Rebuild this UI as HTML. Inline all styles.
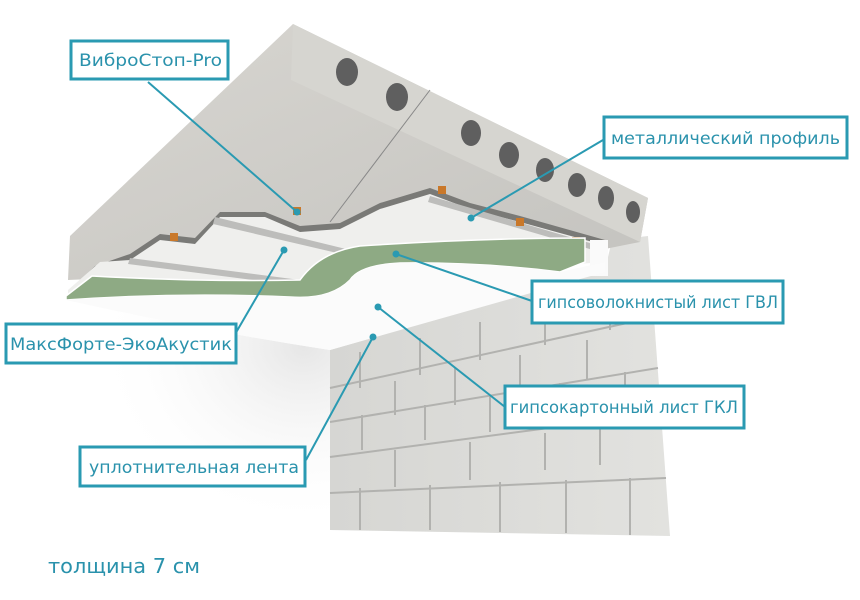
<!DOCTYPE html>
<html><head><meta charset="utf-8"><style>
html,body{margin:0;padding:0;background:#fff;}
svg{display:block}
.lb{fill:#fff;stroke:#2a9ab2;stroke-width:3}
.t{font-family:"DejaVu Sans","Liberation Sans",sans-serif;font-size:16.5px;fill:#2a92ac}
.ln{stroke:#2a9ab2;stroke-width:2;fill:none}
.dot{fill:#2a9ab2}
</style></head><body>
<svg width="860" height="600" viewBox="0 0 860 600" xmlns="http://www.w3.org/2000/svg">
<defs>
<linearGradient id="conc" x1="0" y1="0" x2="1" y2="1"><stop offset="0" stop-color="#d8d6d1"/><stop offset="1" stop-color="#c4c3bf"/></linearGradient>
<linearGradient id="wall" x1="0" y1="0" x2="1" y2="0"><stop offset="0" stop-color="#d6d6d3"/><stop offset="1" stop-color="#e2e2df"/></linearGradient>
<radialGradient id="sh" cx="0.9" cy="0.2" r="0.8"><stop offset="0" stop-color="#e6e6e6"/><stop offset="1" stop-color="#fff" stop-opacity="0"/></radialGradient>
</defs>
<rect width="860" height="600" fill="#fff"/>
<path d="M66,300 Q200,330 330,350 L330,530 L100,530 L100,300 Z" fill="url(#sh)"/>
<!-- wall -->
<polygon points="330,350 605,270 612,240 648,236 670,536 330,530" fill="url(#wall)"/>
<g stroke="#b2b2af" stroke-width="2" fill="none">
<path d="M330,388 L650,318"/><path d="M330,422 L658,368"/><path d="M330,457 L662,413"/><path d="M330,493 L666,478"/>
<path d="M360,352 V388 M420,338 V375 M480,322 V360 M545,300 V345 M610,285 V330
M395,381 V415 M455,368 V405 M520,355 V392 M587,340 V380
M362,415 V450 M425,405 V440 M490,395 V432 M560,383 V420 M625,372 V410
M395,450 V487 M470,442 V480 M545,433 V470 M600,425 V465
M360,488 V530 M430,485 V530 M500,482 V532 M566,480 V533 M630,478 V535"/>
</g>
<!-- slab -->
<polygon points="293,24 648,198 640,242 560,258 68,280 70,236" fill="url(#conc)"/>
<polygon points="293,24 648,198 640,242 291,80" fill="#d6d5d0"/>
<line x1="430" y1="90" x2="330" y2="222" stroke="#888" stroke-width="1"/>
<g fill="#5f5f5f">
<ellipse cx="347" cy="72" rx="11" ry="14"/><ellipse cx="397" cy="97" rx="11" ry="14"/>
<ellipse cx="471" cy="133" rx="10" ry="13"/><ellipse cx="509" cy="155" rx="10" ry="13"/>
<ellipse cx="545" cy="170" rx="9" ry="12"/><ellipse cx="577" cy="185" rx="9" ry="12"/>
<ellipse cx="606" cy="198" rx="8" ry="12"/><ellipse cx="633" cy="212" rx="7" ry="11"/>
</g>
<!-- shadow gap -->
<path d="M95,266 L130,254 L160,234 L195,238 L220,212 L265,212 L300,226 L340,223 L380,203 L430,188 L470,203 L520,216 L605,240 L605,250 L68,292 Z" fill="#7a7a77"/>
<!-- insulation / profiles -->
<path d="M68,290 L100,262 L130,260 L160,240 L195,244 L220,217 L265,217 L300,232 L340,229 L380,209 L430,194 L470,209 L520,222 L600,244 L605,262 L68,300 Z" fill="#efefed"/>
<g fill="#bdbdbb"><path d="M130,258 L300,280 L300,286 L128,264Z"/><path d="M215,217 L350,250 L350,256 L213,224Z"/><path d="M430,196 L600,246 L600,252 L428,202Z"/></g>
<g fill="#c9782a"><rect x="170" y="233" width="8" height="8"/><rect x="293" y="207" width="8" height="8"/><rect x="438" y="186" width="8" height="8"/><rect x="516" y="218" width="8" height="8"/><rect x="572" y="237" width="8" height="8"/></g>
<rect x="590" y="240" width="18" height="36" fill="#fafafa"/>
<!-- GVL green -->
<path d="M66,296 L92,276 Q200,282 300,280 Q320,252 360,246 Q480,238 585,238 L585,262 L560,272 Q480,262 400,263 Q360,265 350,280 Q330,300 290,297 Q180,292 66,300 Z" fill="#8eaa84" stroke="#fff" stroke-width="1.5"/>
<!-- GKL white -->
<path d="M66,300 Q180,292 290,297 Q330,300 350,280 Q360,265 400,263 Q480,262 560,272 L605,262 L605,272 L330,350 Q200,330 66,300 Z" fill="#fbfbfb"/>
<!-- connectors -->
<g class="ln"><path d="M148,82 L297,212"/><path d="M603,140 L471,218"/><path d="M532,301 L396,254"/><path d="M284,250 L234,336"/><path d="M505,407 L378,307"/><path d="M373,337 L306,460"/></g>
<g class="dot"><circle cx="297" cy="212" r="3.5"/><circle cx="471" cy="218" r="3.5"/><circle cx="396" cy="254" r="3.5"/><circle cx="284" cy="250" r="3.5"/><circle cx="378" cy="307" r="3.5"/><circle cx="373" cy="337" r="3.5"/></g>
<!-- labels -->
<rect class="lb" x="71" y="41" width="157" height="38"/><text class="t" x="79" y="66" textLength="143" lengthAdjust="spacingAndGlyphs">ВиброСтоп-Pro</text>
<rect class="lb" x="604" y="117" width="243" height="41"/><text class="t" x="611" y="144" textLength="229" lengthAdjust="spacingAndGlyphs">металлический профиль</text>
<rect class="lb" x="532" y="281" width="251" height="42"/><text class="t" x="538" y="308" textLength="240" lengthAdjust="spacingAndGlyphs">гипсоволокнистый лист ГВЛ</text>
<rect class="lb" x="6" y="324" width="230" height="39"/><text class="t" x="10" y="350" textLength="222" lengthAdjust="spacingAndGlyphs">МаксФорте-ЭкоАкустик</text>
<rect class="lb" x="505" y="386" width="239" height="42"/><text class="t" x="510" y="413" textLength="228" lengthAdjust="spacingAndGlyphs">гипсокартонный лист ГКЛ</text>
<rect class="lb" x="80" y="447" width="225" height="39"/><text class="t" x="89" y="473" textLength="210" lengthAdjust="spacingAndGlyphs">уплотнительная лента</text>
<text class="t" x="48" y="573" style="font-size:20px" textLength="152" lengthAdjust="spacingAndGlyphs">толщина 7 см</text>
</svg>
</body></html>
